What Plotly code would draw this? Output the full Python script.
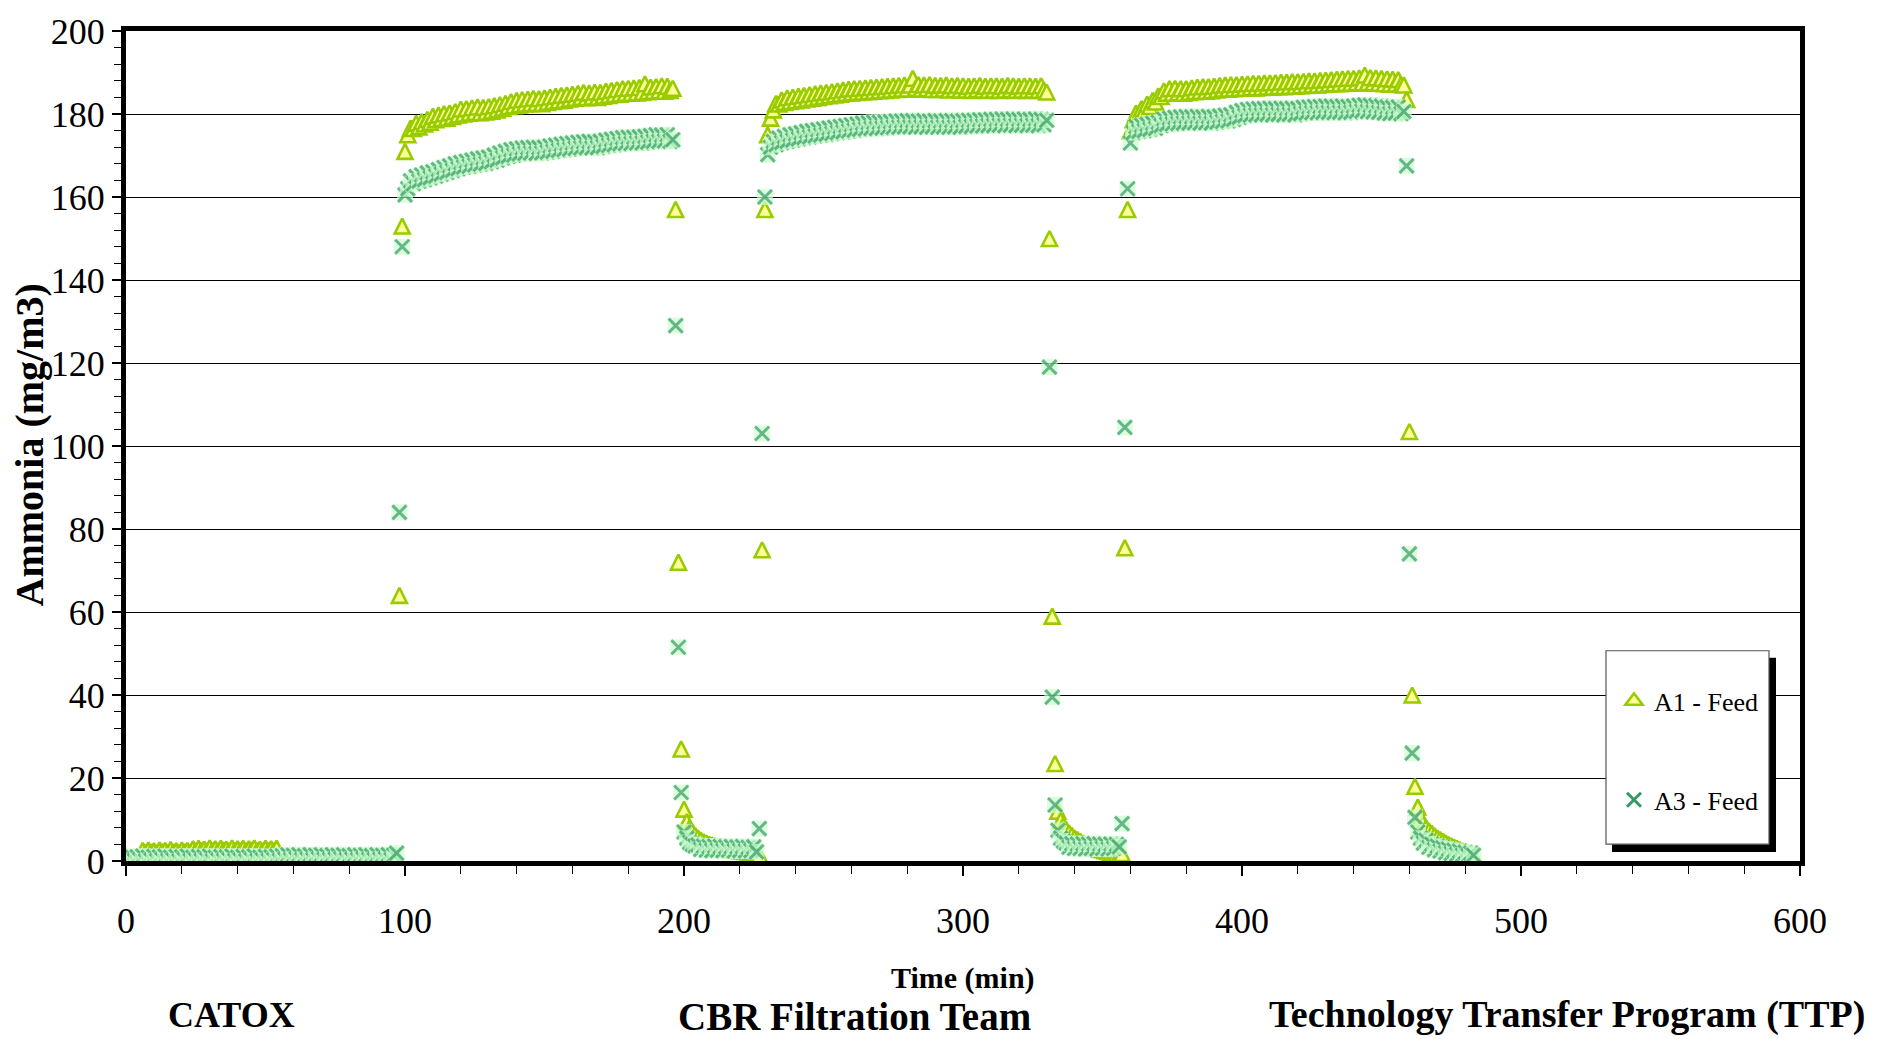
import plotly.graph_objects as go

# ---------------- data (one reading per minute) ----------------
time_min = list(range(0, 484))

a1_feed = (
    # 0-96 CATOX baseline
    [0.5, 0.3, 0.6, 0.4, 0.5, 0.3]
    + [2.6, 2.1, 2.7, 2.2, 2.5, 2.0, 2.7, 2.3, 2.6, 2.1, 2.8, 2.2, 2.5, 2.1, 2.7, 2.3, 2.6, 2.2]
    + [3.0, 2.5, 3.1, 2.6, 2.9, 2.5, 3.2, 2.6, 3.0, 2.5, 3.1, 2.7, 2.9, 2.5, 3.2, 2.6,
       3.0, 2.6, 3.1, 2.5, 3.0, 2.7, 3.2, 2.6, 2.9, 2.5, 3.1, 2.6, 3.0, 2.6, 3.1]
    + [0.8, 0.4, 0.7, 0.3, 0.8, 0.5, 0.7, 0.3, 0.6, 0.4, 0.8, 0.4, 0.7, 0.3,
       0.8, 0.5, 0.7, 0.4, 0.6, 0.3, 0.8, 0.4, 0.7, 0.5, 0.8, 0.4, 0.6, 0.3,
       0.7, 0.5, 0.8, 0.4, 0.7, 0.3, 0.6, 0.5, 0.8, 0.4, 0.7, 0.4, 0.6, 0.8]
    # 97-100
    + [0.8, 64, 153, 171]
    # 101-196
    + [175.0, 176.6, 176.5, 177.8, 176.9, 178.2, 177.6, 178.7, 178.0, 179.5,
       178.6, 179.8, 178.9, 180.1, 179.0, 180.3, 179.4, 180.6, 179.8, 181.2,
       180.0, 181.3, 180.2, 181.5, 180.4, 181.7, 180.3, 181.6, 180.5, 181.8,
       180.7, 182.0, 181.0, 182.3, 181.4, 182.6, 181.8, 183.0, 182.0, 183.3,
       182.2, 183.5, 182.4, 183.6, 182.5, 183.8, 182.6, 183.7, 182.5, 183.9,
       182.8, 184.1, 183.0, 184.3, 183.2, 184.5, 183.3, 184.6, 183.6, 184.8,
       183.8, 185.0, 184.0, 185.2, 183.9, 185.1, 184.1, 185.3, 184.0, 185.2,
       184.3, 185.5, 184.5, 185.7, 184.7, 185.9, 184.8, 186.1, 185.0, 186.2,
       185.0, 186.3, 185.1, 186.4, 185.2, 187.3, 185.4, 186.5, 185.5, 186.6,
       185.6, 186.8, 185.5, 186.7, 185.7, 186.2]
    # 197-200
    + [157, 72, 27, 12.5]
    # 201-225
    + [9.5, 8.0, 7.0, 6.2, 5.6, 5.1, 4.7, 4.4, 4.1, 3.9, 3.7, 3.5, 3.3, 3.2, 3.0,
       2.9, 2.8, 2.7, 2.6, 2.5, 2.4, 2.3, 2.2, 2.1, 2.0]
    # 226-230
    + [1.0, 1.5, 75, 157, 175]
    # 231-330
    + [179.0, 181.0, 182.6, 182.4, 183.4, 182.8, 183.9, 183.0, 184.1, 183.2,
       184.3, 183.4, 184.5, 183.6, 184.7, 183.8, 184.9, 184.0, 185.1, 184.2,
       185.2, 184.4, 185.4, 184.6, 185.6, 184.8, 185.8, 185.0, 186.0, 185.1,
       186.1, 185.2, 186.2, 185.3, 186.3, 185.4, 186.4, 185.5, 186.5, 185.6,
       186.6, 185.7, 186.7, 185.8, 186.8, 185.9, 186.9, 186.0, 187.0, 186.0,
       187.0, 188.6, 186.2, 187.1, 186.0, 187.0, 186.1, 187.1, 185.9, 186.9,
       185.9, 186.9, 186.0, 187.0, 185.8, 186.8, 185.9, 186.9, 185.8, 186.8,
       185.8, 186.7, 185.7, 186.8, 185.9, 186.9, 185.8, 186.7, 185.7, 186.8,
       185.8, 186.8, 185.7, 186.7, 185.8, 186.9, 185.9, 186.8, 185.7, 186.7,
       185.8, 186.8, 185.7, 186.8, 185.8, 186.7, 185.7, 186.8, 185.8, 185.3]
    # 331-334
    + [150, 59, 23.5, 12]
    # 335-355
    + [9.8, 8.6, 7.6, 6.8, 6.2, 5.6, 5.2, 4.8, 4.4, 4.1, 3.8, 3.5, 3.3, 3.1, 2.9,
       2.7, 2.5, 2.3, 2.1, 1.9, 1.8]
    # 356-360
    + [1.6, 1.8, 75.5, 157, 176]
    # 361-458
    + [178.6, 180.2, 179.8, 181.3, 180.9, 182.4, 181.8, 183.3, 182.9, 184.4,
       184.2, 185.6, 185.0, 186.1, 185.0, 186.2, 185.1, 186.1, 185.0, 186.1,
       185.2, 186.3, 185.4, 186.5, 185.5, 186.6, 185.5, 186.6, 185.6, 186.7,
       185.8, 186.9, 186.0, 187.0, 186.0, 187.1, 186.1, 187.1, 186.2, 187.2,
       186.2, 187.3, 186.3, 187.4, 186.3, 187.4, 186.4, 187.5, 186.5, 187.5,
       186.5, 187.6, 186.6, 187.7, 186.6, 187.7, 186.7, 187.8, 186.7, 187.8,
       186.8, 187.9, 186.9, 188.0, 187.0, 188.0, 187.0, 188.1, 187.1, 188.2,
       187.2, 188.3, 187.3, 188.4, 187.3, 188.5, 187.4, 188.6, 187.4, 188.6,
       187.5, 188.7, 187.5, 189.4, 187.6, 188.8, 187.5, 188.7, 187.4, 188.6,
       187.3, 188.5, 187.2, 188.4, 187.2, 188.3, 187.1, 187.0]
    # 459-463
    + [183.5, 103.5, 40, 18, 13]
    # 464-483
    + [10.5, 9.0, 8.0, 7.3, 6.7, 6.1, 5.6, 5.2, 4.8, 4.4, 4.0, 3.7, 3.4, 3.1, 2.8,
       2.5, 2.2, 1.9, 1.6, 1.4]
)

a3_feed = (
    # 0-55
    [0.9, 0.2, 1.1, 0.1, 1.0, 0.3, 1.2, 0.0,
     0.9, 0.2, 1.1, 0.1, 1.0, 0.3, 1.2, 0.1,
     0.9, 0.2, 1.1, 0.0, 1.0, 0.3, 1.2, 0.1,
     0.9, 0.2, 1.1, 0.1, 1.0, 0.3, 1.2, 0.0,
     0.9, 0.2, 1.1, 0.1, 1.0, 0.3, 1.2, 0.1,
     0.9, 0.2, 1.1, 0.0, 1.0, 0.3, 1.2, 0.1,
     0.9, 0.2, 1.1, 0.1, 1.0, 0.3, 1.2, 0.1]
    # 56-96
    + [1.3, 0.4, 1.5, 0.3, 1.4, 0.5, 1.5, 0.3, 1.3, 0.4,
       1.5, 0.3, 1.4, 0.5, 1.5, 0.4, 1.3, 0.3, 1.5, 0.4,
       1.4, 0.5, 1.5, 0.3, 1.3, 0.4, 1.5, 0.3, 1.4, 0.5,
       1.5, 0.4, 1.3, 0.3, 1.5, 0.4, 1.4, 0.5, 1.5, 0.3,
       1.4]
    # 97-100
    + [1.9, 84, 148, 160.5]
    # 101-196
    + [162.0, 163.9, 163.2, 164.9, 163.8, 165.3, 164.2, 165.8, 164.6, 166.1,
       165.0, 166.6, 165.5, 167.1, 165.9, 167.5, 166.4, 168.0, 166.8, 168.3,
       167.2, 168.6, 167.4, 168.9, 167.7, 169.2, 167.9, 169.4, 168.1, 169.6,
       168.5, 170.1, 168.9, 170.6, 169.4, 171.0, 169.8, 171.4, 170.1, 171.6,
       170.4, 171.8, 170.5, 171.9, 170.6, 172.0, 170.5, 171.9, 170.6, 172.0,
       170.8, 172.3, 171.0, 172.5, 171.2, 172.7, 171.4, 172.9, 171.5, 173.0,
       171.7, 173.2, 171.8, 173.3, 171.9, 173.4, 171.8, 173.3, 171.9, 173.4,
       172.2, 173.7, 172.4, 173.9, 172.6, 174.1, 172.8, 174.3, 172.9, 174.4,
       172.9, 174.4, 173.0, 174.5, 173.0, 174.6, 173.2, 174.8, 173.4, 175.0,
       173.4, 174.9, 173.5, 175.0, 173.4, 173.8]
    # 197-200
    + [129, 51.5, 16.5, 7]
    # 201-225
    + [5.5, 4.5, 4.0, 3.6, 3.9, 2.8, 3.6, 2.6, 3.5, 2.5, 3.6, 2.6, 3.5, 2.5, 3.4,
       2.6, 3.5, 2.4, 3.4, 2.5, 3.5, 2.4, 3.3, 2.5, 3.4]
    # 226-230
    + [2.2, 7.8, 103, 160, 170.2]
    # 231-330
    + [172.0, 173.4, 172.6, 174.2, 173.1, 174.6, 173.4, 175.0, 173.7, 175.2,
       174.0, 175.5, 174.3, 175.8, 174.5, 176.0, 174.7, 176.2, 174.9, 176.4,
       175.1, 176.6, 175.3, 176.8, 175.5, 177.0, 175.7, 177.2, 175.9, 177.4,
       176.1, 177.6, 176.3, 177.8, 176.4, 177.9, 176.5, 178.0, 176.5, 178.0,
       176.6, 178.1, 176.7, 178.2, 176.8, 178.3, 176.8, 178.3, 176.9, 178.4,
       176.9, 178.4, 176.8, 178.3, 176.9, 178.4, 176.8, 178.3, 176.9, 178.4,
       176.8, 178.3, 176.9, 178.4, 176.8, 178.4, 176.9, 178.3, 176.8, 178.4,
       177.0, 178.5, 177.0, 178.5, 177.1, 178.6, 177.1, 178.6, 177.2, 178.7,
       177.2, 178.7, 177.3, 178.8, 177.2, 178.7, 177.3, 178.8, 177.2, 178.7,
       177.3, 178.8, 177.2, 178.7, 177.3, 178.8, 177.2, 178.7, 177.4, 178.5]
    # 331-334
    + [119, 39.5, 13.5, 7.4]
    # 335-355
    + [5.5, 4.8, 4.3, 3.3, 4.2, 3.0, 4.1, 3.0, 4.2, 2.9, 4.1, 3.0, 4.2, 2.9, 4.1,
       3.0, 4.0, 2.9, 4.1, 3.0, 4.0]
    # 356-360
    + [3.4, 9.0, 104.5, 162, 173]
    # 361-458
    + [175.5, 177.0, 175.8, 177.3, 176.0, 177.5, 176.3, 177.8, 176.5, 178.0,
       177.2, 178.8, 177.5, 179.0, 177.6, 179.2, 177.7, 179.3, 177.8, 179.4,
       177.8, 179.3, 177.9, 179.4, 177.8, 179.3, 177.9, 179.4, 177.8, 179.3,
       178.0, 179.5, 178.2, 179.7, 178.3, 179.8, 178.7, 180.4, 179.2, 180.8,
       179.6, 181.1, 179.7, 181.2, 179.8, 181.3, 179.8, 181.3, 179.9, 181.4,
       179.8, 181.3, 179.9, 181.4, 179.8, 181.3, 179.9, 181.4, 179.8, 181.3,
       180.1, 181.6, 180.2, 181.7, 180.3, 181.8, 180.3, 181.8, 180.4, 181.9,
       180.4, 181.9, 180.3, 181.8, 180.4, 181.9, 180.3, 181.8, 180.4, 181.9,
       180.6, 182.1, 180.7, 182.2, 180.6, 182.1, 180.5, 182.0, 180.4, 181.9,
       180.2, 181.7, 180.1, 181.6, 180.2, 181.7, 180.1, 180.6]
    # 459-463
    + [167.5, 74, 26, 10.5, 7]
    # 464-483
    + [5.5, 4.3, 5.0, 3.3, 4.1, 2.7, 3.6, 2.4, 3.2, 2.0, 2.9, 1.8, 2.6, 1.6, 2.4,
       1.4, 2.1, 1.3, 1.9, 1.4]
)

series_names = ["A1 - Feed", "A3 - Feed"]
x_title = "Time (min)"
y_title = "Ammonia (mg/m3)"
footer_left = "CATOX"
footer_mid = "CBR Filtration Team"
footer_right = "Technology Transfer Program (TTP)"

# ---------------- layout geometry (pixels) ----------------
W, H = 1887, 1039
L, R, T, B = 126, 1800, 24, 861
PW, PH = R - L, B - T


def px(x):
    return (x - L) / PW


def py(y):
    return (B - y) / PH


FONT = "Liberation Serif, Times New Roman, serif"
A1_LINE, A1_FILL = "#99cc00", "#ffff99"
A3_LINE, A3_FILL = "#339966", "#ccffcc"

TRI_SIZE = 15
SQ_SIZE, X_SIZE, X_W = 16, 14, 3

fig = go.Figure()

# A1: upward triangles centred on the value
fig.add_trace(go.Scatter(
    x=time_min, y=a1_feed, mode="markers", name=series_names[0],
    showlegend=False, legendgroup="a1",
    marker=dict(symbol="arrow-down", angle=180, standoff=TRI_SIZE / 2,
                size=TRI_SIZE, color=A1_FILL,
                line=dict(color=A1_LINE, width=2.6)),
))
# legend entry for A1
fig.add_trace(go.Scatter(
    x=[None], y=[None], mode="markers", name=series_names[0],
    legendgroup="a1",
    marker=dict(symbol="triangle-up", size=15, color=A1_FILL,
                line=dict(color=A1_LINE, width=2.6)),
))

# A3: each reading drawn as a pale square background followed by its X,
# point by point, so later backgrounds cover earlier crosses
n3 = len(a3_feed)
a3_x = [t for t in time_min for _ in range(2)]
a3_y = [v for v in a3_feed for _ in range(2)]
fig.add_trace(go.Scatter(
    x=a3_x, y=a3_y, mode="markers", name=series_names[1], showlegend=False,
    legendgroup="a3", hoverinfo="skip",
    marker=dict(symbol=["square", "x-thin-open"] * n3,
                size=[SQ_SIZE, X_SIZE] * n3,
                color=[A3_FILL, A3_LINE] * n3,
                line=dict(color=[A3_FILL, A3_LINE] * n3, width=[0, X_W] * n3)),
))
# legend entry for A3
fig.add_trace(go.Scatter(
    x=[None], y=[None], mode="markers", name=series_names[1],
    legendgroup="a3",
    marker=dict(symbol="x-thin-open", size=X_SIZE, color=A3_LINE,
                line=dict(color=A3_LINE, width=X_W)),
))

# legend box with shadow
shapes = [
    dict(type="rect", xref="paper", yref="paper",
         x0=px(1612), x1=px(1776), y0=py(852), y1=py(656),
         fillcolor="black", line=dict(width=0), layer="above"),
    dict(type="rect", xref="paper", yref="paper",
         x0=px(1606), x1=px(1769), y0=py(844), y1=py(649),
         fillcolor="white", line=dict(color="#555555", width=1.2), layer="above"),
]

annotations = [
    dict(text=y_title, x=px(30), y=py(442), xref="paper", yref="paper",
         textangle=-90, showarrow=False, xanchor="center", yanchor="middle",
         font=dict(family=FONT, size=40, color="black", weight="bold")),
    dict(text=x_title, x=px(963), y=py(979), xref="paper", yref="paper",
         showarrow=False, xanchor="center", yanchor="middle",
         font=dict(family=FONT, size=30, color="black", weight="bold")),
    dict(text=footer_left, x=px(231), y=py(1016), xref="paper", yref="paper",
         showarrow=False, xanchor="center", yanchor="middle",
         font=dict(family=FONT, size=36, color="black", weight="bold")),
    dict(text=footer_mid, x=px(854), y=py(1018), xref="paper", yref="paper",
         showarrow=False, xanchor="center", yanchor="middle",
         font=dict(family=FONT, size=39, color="black", weight="bold")),
    dict(text=footer_right, x=px(1567), y=py(1016), xref="paper", yref="paper",
         showarrow=False, xanchor="center", yanchor="middle",
         font=dict(family=FONT, size=38, color="black", weight="bold")),
]

fig.update_layout(
    width=W, height=H,
    margin=dict(l=L, r=W - R, t=T, b=H - B, pad=0),
    paper_bgcolor="white", plot_bgcolor="white",
    font=dict(family=FONT, color="black"),
    showlegend=True,
    legend=dict(x=px(1614), y=py(676), xanchor="left", yanchor="top",
                bgcolor="rgba(0,0,0,0)", borderwidth=0,
                font=dict(family=FONT, size=26, color="black"),
                tracegroupgap=62, traceorder="grouped", itemwidth=30),
    shapes=shapes,
    annotations=annotations,
    xaxis=dict(range=[0, 600], dtick=100, tick0=0,
               showgrid=False, zeroline=False,
               showline=True, linecolor="black", linewidth=5, mirror=True,
               ticks="outside", ticklen=10, tickwidth=1.5, tickcolor="black",
               minor=dict(dtick=20, ticks="outside", ticklen=8, tickwidth=1.2,
                          tickcolor="black", showgrid=False),
               tickfont=dict(family=FONT, size=36, color="black"),
               ticklabelstandoff=14),
    yaxis=dict(range=[0, 200], dtick=20, tick0=0,
               showgrid=True, gridcolor="black", gridwidth=1.2, zeroline=False,
               showline=True, linecolor="black", linewidth=5, mirror=True,
               ticks="outside", ticklen=9, tickwidth=1.5, tickcolor="black",
               minor=dict(dtick=4, ticks="outside", ticklen=7, tickwidth=1.2,
                          tickcolor="black", showgrid=False),
               tickfont=dict(family=FONT, size=36, color="black"),
               ticklabelstandoff=0),
)

fig.write_html("out.html")
